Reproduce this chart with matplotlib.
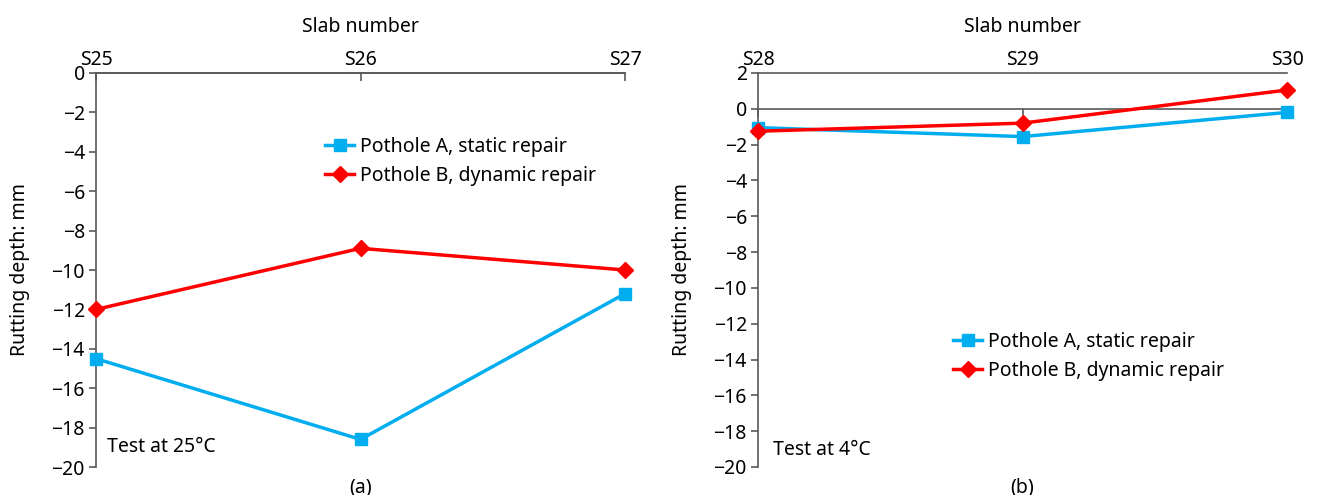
import numpy as np
import matplotlib.pyplot as plt

# ==========================================
# DATOS
# ==========================================
slabs_a = ['S25', 'S26', 'S27']
static_a = [-14.5, -18.6, -11.2]
dynamic_a = [-12.0, -8.9, -10.0]

slabs_b = ['S28', 'S29', 'S30']
static_b = [-1.05, -1.55, -0.2]
dynamic_b = [-1.25, -0.8, 1.05]

plt.rcParams['font.family'] = ['Noto Sans', 'DejaVu Sans']
plt.rcParams['font.size'] = 14

blue = '#00AEEF'
red = '#FF0000'
grey = '#595959'
fs = 14

fig = plt.figure(figsize=(13.17, 4.95), dpi=100)
ax1 = fig.add_axes([96/1317, 1-467/495, 529/1317, 394/495])
ax2 = fig.add_axes([758/1317, 1-467/495, 529/1317, 394/495])


def draw(ax, slabs, static, dynamic, ylim, note, note_pos, tag, legend_pos):
    x = np.arange(len(slabs))
    ax.plot(x, static, color=blue, lw=2.5, marker='s', ms=9,
            label='Pothole A, static repair', clip_on=False, zorder=3)
    ax.plot(x, dynamic, color=red, lw=2.5, marker='D', ms=8,
            label='Pothole B, dynamic repair', clip_on=False, zorder=4)
    ax.set_xlim(0, len(slabs) - 1)
    ax.set_ylim(*ylim)
    ax.set_yticks(np.arange(ylim[0], ylim[1] + 1, 2))
    ax.set_xticks(x)
    ax.set_xticklabels(slabs)

    # eje de categorías cruzando en y = 0
    ax.spines['right'].set_visible(False)
    ax.spines['bottom'].set_position(('data', 0))
    for s in ['left', 'bottom', 'top']:
        ax.spines[s].set_color(grey)
        ax.spines[s].set_linewidth(1.2)
    ax.tick_params(axis='x', bottom=True, top=False, labelbottom=False,
                   labeltop=True, direction='out', length=6, width=1.2,
                   color=grey, pad=-3.5, labelsize=fs)
    ax.tick_params(axis='y', direction='out', length=5, width=1.2,
                   color=grey, pad=3, labelsize=fs)
    ax.set_yticklabels([f'{v:d}'.replace('-', '\u2212') for v in ax.get_yticks().astype(int)])

    ax.xaxis.set_label_position('top')
    ax.set_xlabel('Slab number', fontsize=fs, labelpad=12.5)
    ax.set_ylabel('Rutting depth: mm', fontsize=fs)
    ax.yaxis.set_label_coords(-0.124, 0.5)

    ax.text(note_pos[0], note_pos[1], note, transform=ax.transAxes,
            fontsize=fs, ha='left', va='center')
    ax.text(0.5, -0.052, tag, transform=ax.transAxes, fontsize=fs,
            ha='center', va='center')
    ax.legend(loc='upper left', bbox_to_anchor=legend_pos, frameon=False,
              fontsize=fs, handlelength=1.5, handletextpad=0.3,
              labelspacing=0.45, borderaxespad=0, borderpad=0)


draw(ax1, slabs_a, static_a, dynamic_a, (-20, 0), 'Test at 25°C',
     (0.021, 0.051), '(a)', (0.433, 0.837))
draw(ax2, slabs_b, static_b, dynamic_b, (-20, 2), 'Test at 4°C',
     (0.028, 0.043), '(b)', (0.369, 0.342))

fig.savefig('out.png', dpi=100)
